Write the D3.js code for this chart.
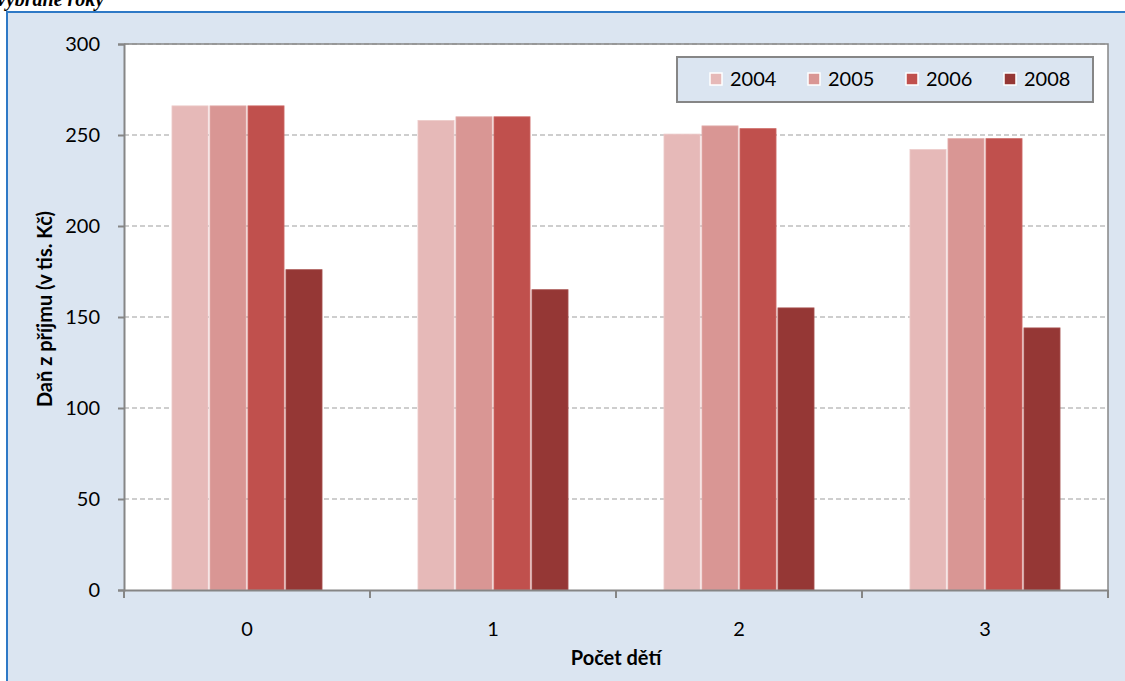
<!DOCTYPE html>
<html><head><meta charset="utf-8">
<script src="https://cdn.jsdelivr.net/npm/d3@7"></script>
<style>
html,body{margin:0;padding:0;background:#fff;overflow:hidden;}
svg{display:block;}
</style></head>
<body>
<script>
const categories = ["0", "1", "2", "3"];
const seriesNames = ["2004", "2005", "2006", "2008"];
const values2004 = [266, 258, 250.5, 242];
const values2005 = [266, 260, 255, 248];
const values2006 = [266, 260, 253.5, 248];
const values2008 = [176, 165, 155, 144];
const yTicks = [0, 50, 100, 150, 200, 250, 300];
const colors = ["#E6B9B8", "#D99694", "#C0504D", "#953735"];
const strokes = ["#EDCBCA", "#E2ADAB", "#CD6A67", "#A85452"];
const yTitle = "Daň z příjmu (v tis. Kč)";
const xTitle = "Počet dětí";
const title = "vybrané roky";

const seriesValues = [values2004, values2005, values2006, values2008];
const W = 1125, H = 681;
const font = "Lato, 'Open Sans', sans-serif";
const svg = d3.select("body").append("svg").attr("width", W).attr("height", H);

// outer frame
svg.append("rect").attr("x", 7).attr("y", 12).attr("width", W + 20).attr("height", H + 20)
  .attr("fill", "#DBE5F1").attr("stroke", "#2E79C6").attr("stroke-width", 2);

svg.append("text").attr("x", -3).attr("y", 6).text(title)
  .attr("font-family", "'Liberation Serif', 'Times New Roman', serif")
  .attr("font-style", "italic").attr("font-weight", "bold").attr("font-size", 20).attr("fill", "#000");

const L = 124, R = 1108, T = 44, B = 590;
svg.append("rect").attr("x", L).attr("y", T).attr("width", R - L).attr("height", B - T).attr("fill", "#fff");

const y = d3.scaleLinear().domain([0, 300]).range([B, T]);
const x0 = d3.scaleBand().domain(categories).range([L, R]).paddingInner(0.39).paddingOuter(0.195);
const x1 = d3.scaleBand().domain(seriesNames).range([0, x0.bandwidth()]).paddingInner(0.05);

// gridlines
svg.append("g").selectAll("line").data(yTicks.filter(d => d > 0)).join("line")
  .attr("x1", L).attr("x2", R).attr("y1", d => y(d)).attr("y2", d => y(d))
  .attr("stroke", "#BFBFBF").attr("stroke-width", 1.5).attr("stroke-dasharray", "5,3");

// bars
const groups = svg.append("g").selectAll("g").data(categories).join("g")
  .attr("transform", d => `translate(${x0(d)},0)`);
groups.selectAll("rect").data((c, ci) => seriesNames.map((s, si) => ({s, si, v: seriesValues[si][ci]})))
  .join("rect")
  .attr("x", d => x1(d.s)).attr("width", x1.bandwidth())
  .attr("y", d => y(d.v)).attr("height", d => B - y(d.v))
  .attr("fill", d => colors[d.si]).attr("stroke", d => strokes[d.si]).attr("stroke-width", 0.8);

// plot border (top/right)
svg.append("path").attr("d", `M${L},${T}H${R}V${B}`).attr("fill", "none")
  .attr("stroke", "#868686").attr("stroke-width", 1.5);

// y axis
const yAxis = d3.axisLeft(y).tickValues(yTicks).tickSize(6).tickPadding(18);
const gy = svg.append("g").attr("transform", `translate(${L},0)`).call(yAxis);
gy.select(".domain").attr("stroke", "#868686").attr("stroke-width", 2);
gy.selectAll(".tick line").attr("stroke", "#868686").attr("stroke-width", 2);
gy.selectAll(".tick text").attr("font-family", font).attr("font-size", 20).attr("fill", "#000");

// x axis
const xAxis = d3.axisBottom(x0).tickSize(0).tickPadding(32);
const gx = svg.append("g").attr("transform", `translate(0,${B})`).call(xAxis);
gx.select(".domain").attr("stroke", "#868686").attr("stroke-width", 2);
gx.selectAll(".tick text").attr("font-family", font).attr("font-size", 20).attr("fill", "#000");
// category boundary ticks
const bounds = d3.range(categories.length + 1).map(i => L + i * (R - L) / categories.length);
svg.append("g").selectAll("line").data(bounds).join("line")
  .attr("x1", d => d).attr("x2", d => d).attr("y1", B).attr("y2", B + 8)
  .attr("stroke", "#868686").attr("stroke-width", 2);

// axis titles
svg.append("text").attr("transform", `translate(52,${(T + B) / 2 - 8}) rotate(-90)`)
  .attr("text-anchor", "middle").text(yTitle)
  .attr("font-family", font).attr("font-weight", "bold").attr("font-size", 20).attr("fill", "#000");
svg.append("text").attr("x", (L + R) / 2).attr("y", 665).attr("text-anchor", "middle").text(xTitle)
  .attr("font-family", font).attr("font-weight", "bold").attr("font-size", 20).attr("fill", "#000");

// legend
const lg = svg.append("g");
lg.append("rect").attr("x", 677).attr("y", 57).attr("width", 416).attr("height", 45)
  .attr("fill", "#DBE5F1").attr("stroke", "#868686").attr("stroke-width", 2);
const items = lg.selectAll("g").data(seriesNames).join("g")
  .attr("transform", (d, i) => `translate(${710 + i * 98},73)`);
items.append("rect").attr("width", 12).attr("height", 12).attr("fill", (d, i) => colors[i])
  .attr("stroke", "#fff").attr("stroke-width", 1.5);
items.append("text").attr("x", 20).attr("y", 13).text(d => d)
  .attr("font-family", font).attr("font-size", 20).attr("fill", "#000");
</script>
</body></html>
